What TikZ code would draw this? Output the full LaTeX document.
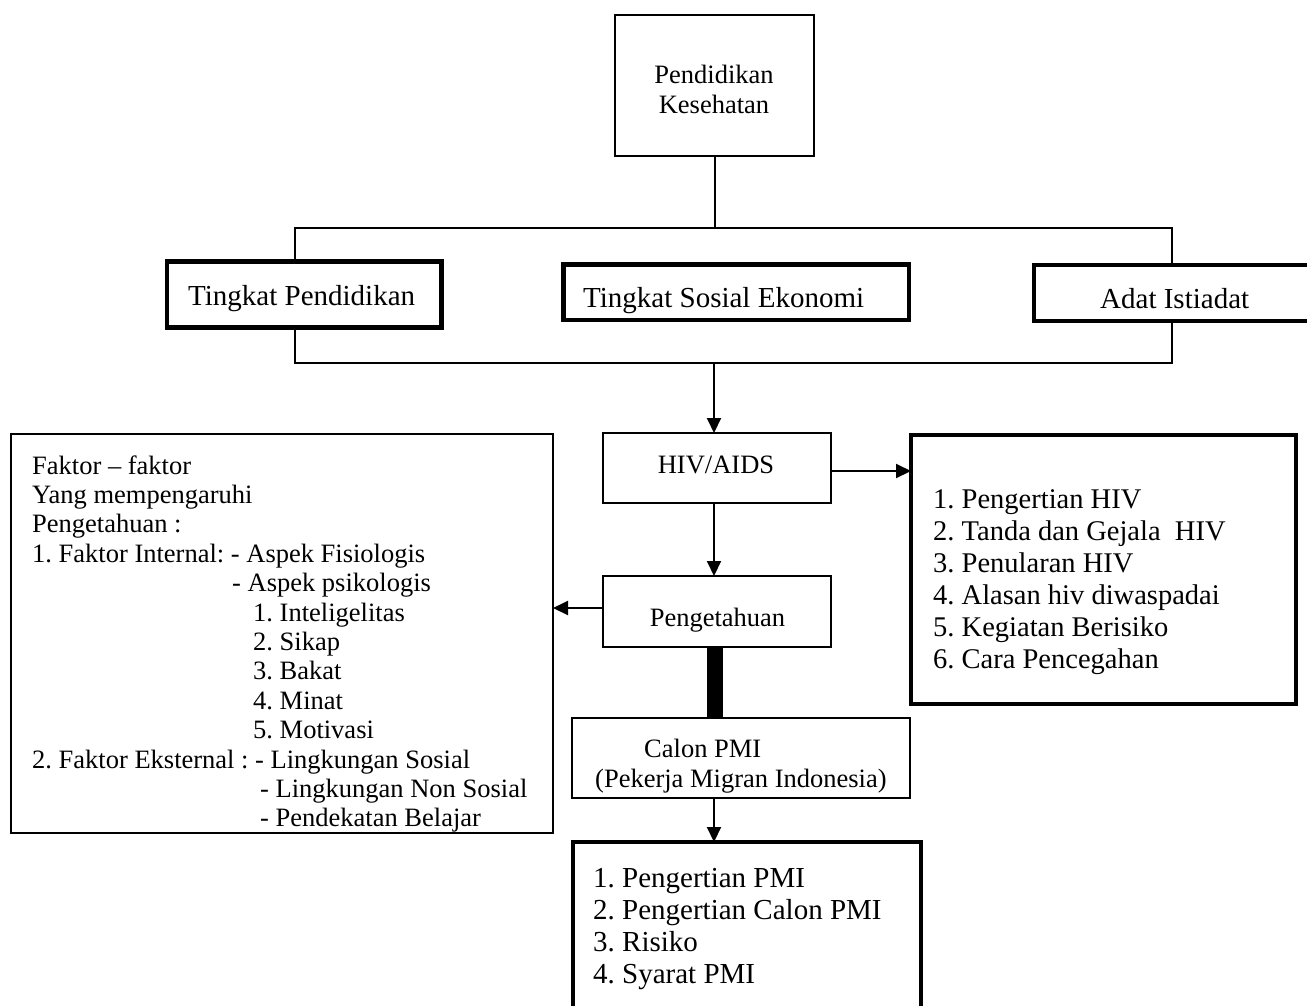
\documentclass[tikz,border=0pt]{standalone}
\usepackage{fontspec}
\setmainfont{Liberation Serif}
\usetikzlibrary{arrows.meta}
\frenchspacing
\tikzset{
  thinbox/.style={draw, line width=2pt, inner sep=0pt, outer sep=0pt},
  thickbox/.style={draw, line width=4.5pt, inner sep=0pt, outer sep=0pt},
  conn/.style={line width=2pt},
  arr/.style={line width=2pt, -{Triangle[length=15pt,width=14pt]}},
  fthick/.style={line width=16pt},
  tmid/.style={inner sep=0pt, font=\fontsize{26.5}{30}\selectfont},
  tbig/.style={inner sep=0pt, font=\fontsize{29}{32}\selectfont},
  tlist/.style={inner sep=0pt, anchor=base west, font=\fontsize{28.5}{32}\selectfont},
  tleft/.style={inner sep=0pt, anchor=base west, font=\fontsize{26.5}{29.4}\selectfont},
}
\begin{document}
\begin{tikzpicture}[x=1pt,y=-1pt]
\useasboundingbox (0,0) rectangle (1307,1005);
\clip (0,0) rectangle (1307,1005);

% boxes
\node[thinbox, minimum width=199pt, minimum height=141pt] (top) at (714.5,85.5) {};
\node[thickbox, minimum width=274.5pt, minimum height=66pt] (tp) at (304.25,294.5) {};
\node[thickbox, minimum width=345.5pt, minimum height=55.5pt] (tse) at (736,292) {};
\node[thickbox, minimum width=296pt, minimum height=56pt] (ad) at (1182,293) {};
\node[thinbox, minimum width=228pt, minimum height=70pt] (hiv) at (717,468) {};
\node[thinbox, minimum width=228pt, minimum height=71pt] (peng) at (717,611.5) {};
\node[thickbox, minimum width=385pt, minimum height=269pt] (rb) at (1103.5,569.5) {};
\node[thinbox, minimum width=542pt, minimum height=399pt] (lb) at (282,633.5) {};
\node[thinbox, minimum width=338pt, minimum height=80pt] (calon) at (741,758) {};
\node[thickbox, minimum width=348pt, minimum height=198pt] (bb) at (747,941) {};

% junction coordinates
\coordinate (jt) at (714.5,228);
\coordinate (bl) at (295,228);
\coordinate (br) at (1172,228);
\coordinate (jb) at (714,363);
\coordinate (tk) at (715,0);

% connectors
\draw[conn] (top.south) -- (jt);
\draw[conn] (tp.north -| bl) |- (jt) -| (ad.north -| br);
\draw[conn] (tp.south -| bl) |- (jb) -| (ad.south -| br);
\draw[arr] (jb) -- (jb |- hiv.north);
\draw[arr] (hiv.south -| jb) -- (peng.north -| jb);
\draw[arr] ([yshift=-3pt]hiv.east) -- ([yshift=-3pt]hiv.east -| rb.west);
\draw[arr] ([yshift=3.5pt]peng.west) -- ([yshift=3.5pt]peng.west -| lb.east);
\draw[fthick] (peng.south -| tk) -- (calon.north -| tk);
\draw[arr] (calon.south -| jb) -- (bb.north -| jb);

% texts
\node[tmid, anchor=base] (tpend) at (714,83) {Pendidikan};
\node[tmid, anchor=base] (tkes) at (714,113) {Kesehatan};
\node[tbig, anchor=base west] (ttp) at (188,305) {Tingkat Pendidikan};
\node[tbig, anchor=base west] (ttse) at (583,307) {Tingkat Sosial Ekonomi};
\node[tbig, anchor=base west] (tad) at (1100,308) {Adat Istiadat};
\node[tmid, anchor=base] (thiv) at (716,473) {HIV/AIDS};
\node[tmid, anchor=base] (tpeng) at (717.5,626) {Pengetahuan};
\node[tmid, anchor=base west] (tcal1) at (644,757) {Calon PMI};
\node[tmid, anchor=base west] (tcal2) at (595,787) {(Pekerja Migran Indonesia)};

\node[tlist] (r1) at (933,508) {1. Pengertian HIV};
\node[tlist] (r2) at (933,540) {2. Tanda dan Gejala\ \ HIV};
\node[tlist] (r3) at (933,572) {3. Penularan HIV};
\node[tlist] (r4) at (933,604) {4. Alasan hiv diwaspadai};
\node[tlist] (r5) at (933,636) {5. Kegiatan Berisiko};
\node[tlist] (r6) at (933,668) {6. Cara Pencegahan};

\node[tlist, font=\fontsize{29}{32}\selectfont] (b1) at (593,887) {1. Pengertian PMI};
\node[tlist, font=\fontsize{29}{32}\selectfont] (b2) at (593,919) {2. Pengertian Calon PMI};
\node[tlist, font=\fontsize{29}{32}\selectfont] (b3) at (593,951) {3. Risiko};
\node[tlist, font=\fontsize{29}{32}\selectfont] (b4) at (593,983) {4. Syarat PMI};

\node[tleft] (l1) at (32,474) {Faktor – faktor};
\node[tleft] (l2) at (32,503.4) {Yang mempengaruhi};
\node[tleft] (l3) at (32,532.8) {Pengetahuan :};
\node[tleft] (l4) at (32,562.2) {1. Faktor Internal: - Aspek Fisiologis};
\node[tleft] (l5) at (232,591.6) {- Aspek psikologis};
\node[tleft] (l6) at (253,621) {1. Inteligelitas};
\node[tleft] (l7) at (253,650.4) {2. Sikap};
\node[tleft] (l8) at (253,679.8) {3. Bakat};
\node[tleft] (l9) at (253,709.2) {4. Minat};
\node[tleft] (l10) at (253,738.6) {5. Motivasi};
\node[tleft] (l11) at (32,768) {2. Faktor Eksternal : - Lingkungan Sosial};
\node[tleft] (l12) at (260,797.4) {- Lingkungan Non Sosial};
\node[tleft] (l13) at (260,826.8) {- Pendekatan Belajar};
\end{tikzpicture}
\end{document}
